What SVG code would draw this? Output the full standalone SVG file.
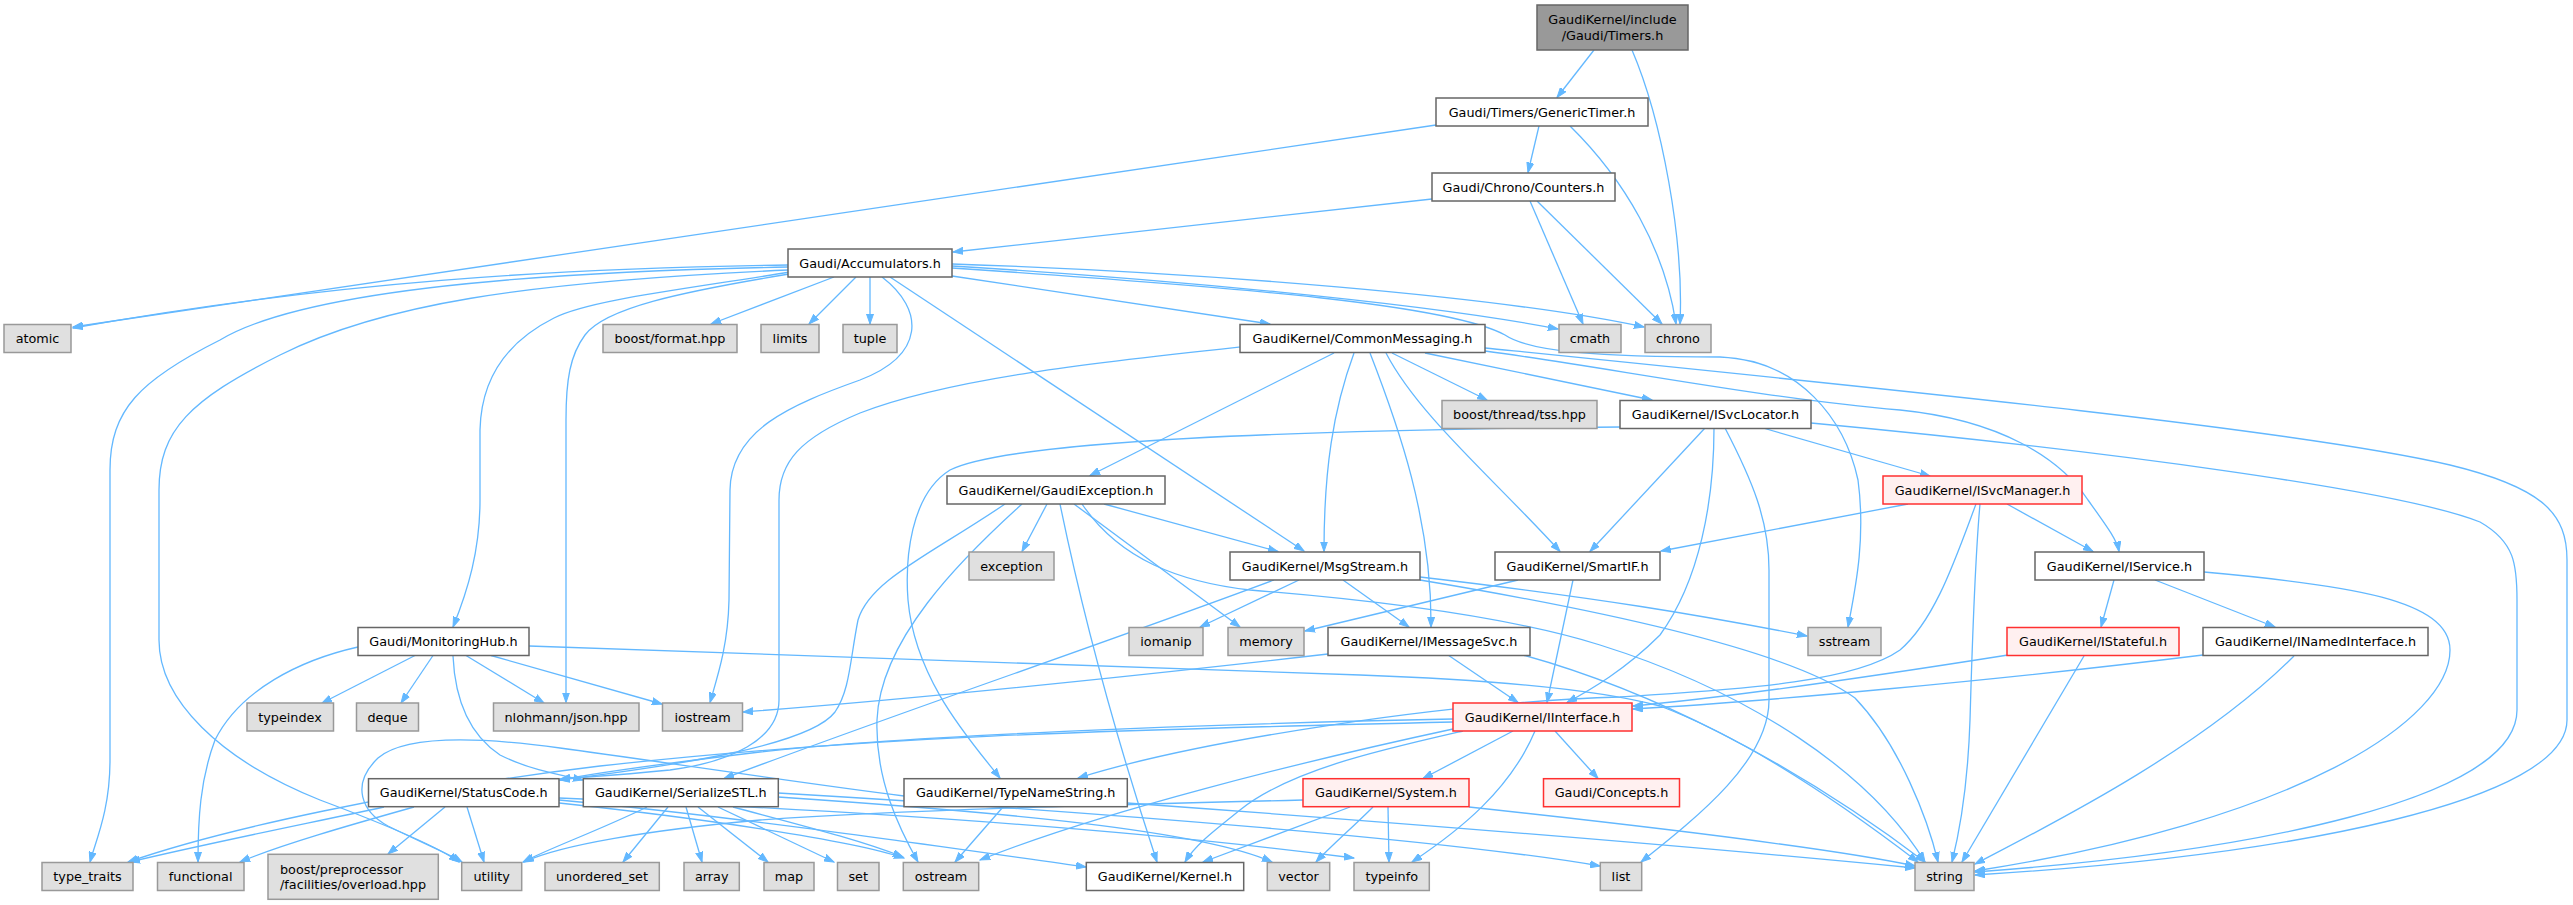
<svg xmlns="http://www.w3.org/2000/svg" width="2573" height="905" viewBox="0 0 2573 905">
<style>
.e{fill:none;stroke:#63b8ff;stroke-width:1.3;marker-end:url(#a)}
.n rect{fill:#ffffff;stroke:#666666;stroke-width:1.5}
.g rect{fill:#e0e0e0;stroke:#999999;stroke-width:1.5}
.r rect{fill:#fff0f0;stroke:#ff3030;stroke-width:1.5}
.root rect{fill:#999999;stroke:#666666;stroke-width:1.5}
text{font-family:"DejaVu Sans","Liberation Sans",sans-serif;font-size:12.8px;fill:#000;text-anchor:middle}
text.l{text-anchor:start}
</style>
<defs>
<marker id="a" markerWidth="11" markerHeight="8" refX="10" refY="4" orient="auto" markerUnits="userSpaceOnUse">
<path d="M0,0.5 L10,4 L0,7.5 z" fill="#63b8ff" stroke="#63b8ff" stroke-width="1"/>
</marker>
</defs>
<rect x="0" y="0" width="2573" height="905" fill="#ffffff"/>
<g id="edges">
<path class="e" d="M1594,50 L1557,97.5"/>
<path class="e" d="M1632,50 C1662,120 1684,240 1680,324"/>
<path class="e" d="M1436,125 L73,327"/>
<path class="e" d="M1539,126 L1528,172.5"/>
<path class="e" d="M1570,126 C1625,180 1665,250 1676,324"/>
<path class="e" d="M1432,199 L953,252"/>
<path class="e" d="M1530,201 L1583,324"/>
<path class="e" d="M1537,201 L1662,324"/>
<path class="e" d="M788,265 C560,268 330,282 73,328"/>
<path class="e" d="M834,277 L711,324"/>
<path class="e" d="M856,277 L809,324"/>
<path class="e" d="M870,277 L870,324"/>
<path class="e" d="M952,276 L1270,324"/>
<path class="e" d="M952,266 C1150,278 1420,302 1558,329"/>
<path class="e" d="M952,264 C1200,272 1500,296 1644,327"/>
<path class="e" d="M952,268 C1250,288 1450,305 1505,335 C1530,352 1600,357 1720,357 C1800,360 1845,420 1858,480 C1866,540 1855,590 1848,627"/>
<path class="e" d="M890,277 L1304,551"/>
<path class="e" d="M882,277 C925,310 925,355 860,380 C790,405 731,430 730,490 L729,600 C728,645 718,675 710,702.5"/>
<path class="e" d="M790,272 C680,290 590,300 554,318 C500,345 481,385 480,430 L480,500 C480,550 468,590 453,627"/>
<path class="e" d="M789,274 C680,292 605,308 585,335 C570,355 566,380 566,420 L566,702.5"/>
<path class="e" d="M788,267 C520,272 300,292 220,340 C140,380 110,410 110,470 L110,760 C110,810 96,840 90,862"/>
<path class="e" d="M788,270 C520,282 380,305 280,355 C190,400 159,430 159,490 L159,640 C159,700 220,760 320,800 C400,830 440,848 459,862"/>
<path class="e" d="M1334,353 L1090,475.5"/>
<path class="e" d="M1354,353 C1333,410 1324,470 1324,551.5"/>
<path class="e" d="M1370,353 C1398,425 1432,520 1431,627"/>
<path class="e" d="M1386,353 C1418,415 1495,480 1560,551.5"/>
<path class="e" d="M1392,353 L1487,400"/>
<path class="e" d="M1425,353 L1652,400"/>
<path class="e" d="M1485,351 C1600,366 1760,398 1900,410 C2000,420 2060,458 2088,500 C2108,528 2117,540 2119,551.5"/>
<path class="e" d="M1485,348 C1900,390 2300,430 2450,465 C2545,488 2567,515 2567,560 L2567,720 C2567,800 2300,855 1975,875"/>
<path class="e" d="M1240,347 C1100,362 950,378 860,413 C800,438 779,462 779,500 L779,700 C779,740 730,762 670,770 C620,775 585,777 560,779"/>
<path class="e" d="M1621,427 C1300,430 1010,440 950,470 C910,495 905,560 908,600 C915,680 970,740 1000,778"/>
<path class="e" d="M1763,428 L1930,476"/>
<path class="e" d="M1705,428 L1590,551.5"/>
<path class="e" d="M1714,428 C1714,500 1700,580 1660,635 C1625,670 1590,690 1567,702.5"/>
<path class="e" d="M1725,428 C1752,480 1769,520 1769,570 L1769,700 C1769,760 1700,815 1641,862"/>
<path class="e" d="M1811,423 C2100,450 2400,490 2480,522 C2515,542 2517,565 2517,600 L2517,710 C2517,800 2250,852 1975,872"/>
<path class="e" d="M1908,504 L1661,551"/>
<path class="e" d="M2007,504 L2093,551.5"/>
<path class="e" d="M1980,504 C1975,560 1972,650 1970,720 C1968,780 1960,830 1952,862"/>
<path class="e" d="M1976,504 C1955,560 1935,620 1900,650 C1850,685 1720,690 1620,697 C1450,702 1200,740 1078,778"/>
<path class="e" d="M2114,580 L2101,627"/>
<path class="e" d="M2155,580 L2275,627"/>
<path class="e" d="M2204,572 C2350,585 2450,600 2450,650 C2450,720 2300,820 1975,871"/>
<path class="e" d="M2008,655 C1850,680 1720,698 1633,706"/>
<path class="e" d="M2203,655 C2000,680 1760,702 1633,709"/>
<path class="e" d="M2084,656 L1962,862"/>
<path class="e" d="M2294,656 C2200,750 2050,825 1975,864"/>
<path class="e" d="M1343,580 L1409,627"/>
<path class="e" d="M1299,580 L1200,627"/>
<path class="e" d="M1420,577 C1600,598 1700,615 1807,636"/>
<path class="e" d="M1420,580 C1600,610 1790,650 1855,698 C1900,745 1928,820 1938,862"/>
<path class="e" d="M1274,580 C1100,645 900,712 724,778.5"/>
<path class="e" d="M1518,580 L1305,631"/>
<path class="e" d="M1573,580 L1547,702.5"/>
<path class="e" d="M1448,655 L1518,702.5"/>
<path class="e" d="M1328,654 C1100,680 900,700 743,712"/>
<path class="e" d="M1523,655 C1650,690 1790,760 1925,862"/>
<path class="e" d="M1047,504 L1022,551.5"/>
<path class="e" d="M1104,504 L1278,551.5"/>
<path class="e" d="M1074,504 L1240,627"/>
<path class="e" d="M1060,504 C1090,650 1130,780 1157,862"/>
<path class="e" d="M1005,504 C930,555 870,580 858,620 C850,660 850,690 835,712 C810,745 680,765 560,780"/>
<path class="e" d="M1022,504 C960,560 880,640 877,720 C875,780 900,830 918,862"/>
<path class="e" d="M1082,504 C1120,560 1180,582 1250,590 C1400,602 1520,620 1600,645 C1750,692 1870,772 1925,862"/>
<path class="e" d="M358,647 C300,660 240,690 215,740 C200,780 198,820 198,862"/>
<path class="e" d="M415,655.5 L322,703"/>
<path class="e" d="M433,655.5 L401,703"/>
<path class="e" d="M466,655.5 L544,703"/>
<path class="e" d="M491,655.5 L662,704"/>
<path class="e" d="M453,656 C455,700 470,735 500,755 C530,770 560,775 583,780"/>
<path class="e" d="M529,646 L1360,675 C1500,680 1600,690 1660,706 C1750,740 1850,810 1918,862"/>
<path class="e" d="M1513,731 L1423,778.5"/>
<path class="e" d="M1555,731 L1598,778.5"/>
<path class="e" d="M1535,731 C1510,790 1460,830 1412,862"/>
<path class="e" d="M1463,731 C1380,750 1290,770 1240,810 C1215,830 1195,845 1185,862"/>
<path class="e" d="M1453,729 C1300,762 1100,812 980,860"/>
<path class="e" d="M1453,719 C1200,724 900,736 760,752 C660,764 600,772 560,780"/>
<path class="e" d="M1453,722 C1100,730 860,737 600,766 C400,790 220,830 128,862"/>
<path class="e" d="M384,807 C300,825 200,845 130,862"/>
<path class="e" d="M414,807 C350,825 280,845 240,862"/>
<path class="e" d="M445,807 L388,854"/>
<path class="e" d="M467,807 L484,862"/>
<path class="e" d="M559,803 C700,818 850,840 904,858"/>
<path class="e" d="M559,800 C750,818 950,848 1086,867"/>
<path class="e" d="M559,798 C800,808 1100,825 1354,858"/>
<path class="e" d="M647,807 C600,830 550,848 523,862"/>
<path class="e" d="M668,807 L623,862"/>
<path class="e" d="M686,807 L702,862"/>
<path class="e" d="M698,807 L768,862"/>
<path class="e" d="M718,807 L834,862"/>
<path class="e" d="M733,807 C800,825 860,840 903,857"/>
<path class="e" d="M778,797 C1000,812 1200,830 1272,862"/>
<path class="e" d="M778,793 C1100,812 1450,840 1600,866"/>
<path class="e" d="M1003,807 L955,862"/>
<path class="e" d="M1127,803 C1500,830 1750,852 1915,868"/>
<path class="e" d="M904,796 C800,783 650,760 560,748 C480,737 405,735 378,758 C350,785 362,812 388,826 C420,842 445,852 462,862"/>
<path class="e" d="M1350,807 L1203,862"/>
<path class="e" d="M1373,807 C1352,828 1332,845 1316,862"/>
<path class="e" d="M1388,807 L1389,862"/>
<path class="e" d="M1469,807 C1700,832 1850,852 1915,866"/>
<path class="e" d="M1303,800 C1100,805 900,810 760,820 C650,830 560,845 524,862"/>
</g>
<g id="node-timers" class="root"><rect x="1537" y="5" width="151" height="45"/><text x="1612.5" y="24">GaudiKernel/include</text><text x="1612.5" y="39.5">/Gaudi/Timers.h</text></g>
<g id="node-generictimer" class="n"><rect x="1436" y="98" width="212" height="28"/><text x="1542" y="116.6">Gaudi/Timers/GenericTimer.h</text></g>
<g id="node-counters" class="n"><rect x="1432" y="173" width="183" height="28"/><text x="1523.5" y="191.6">Gaudi/Chrono/Counters.h</text></g>
<g id="node-accumulators" class="n"><rect x="788" y="249" width="164" height="28"/><text x="870" y="267.6">Gaudi/Accumulators.h</text></g>
<g id="node-atomic" class="g"><rect x="4" y="324.5" width="67" height="28"/><text x="37.5" y="343.1">atomic</text></g>
<g id="node-boostformat" class="g"><rect x="603" y="324.5" width="134" height="28"/><text x="670" y="343.1">boost/format.hpp</text></g>
<g id="node-limits" class="g"><rect x="761" y="324.5" width="58" height="28"/><text x="790" y="343.1">limits</text></g>
<g id="node-tuple" class="g"><rect x="843" y="324.5" width="54" height="28"/><text x="870" y="343.1">tuple</text></g>
<g id="node-commonmessaging" class="n"><rect x="1240" y="324.5" width="245" height="28"/><text x="1362.5" y="343.1">GaudiKernel/CommonMessaging.h</text></g>
<g id="node-cmath" class="g"><rect x="1559" y="324.5" width="62" height="28"/><text x="1590" y="343.1">cmath</text></g>
<g id="node-chrono" class="g"><rect x="1645" y="324.5" width="66" height="28"/><text x="1678" y="343.1">chrono</text></g>
<g id="node-tss" class="g"><rect x="1442" y="400.5" width="155" height="28"/><text x="1519.5" y="419.1">boost/thread/tss.hpp</text></g>
<g id="node-isvclocator" class="n"><rect x="1620" y="400.5" width="191" height="28"/><text x="1715.5" y="419.1">GaudiKernel/ISvcLocator.h</text></g>
<g id="node-gaudiexception" class="n"><rect x="947" y="476" width="218" height="28"/><text x="1056" y="494.6">GaudiKernel/GaudiException.h</text></g>
<g id="node-isvcmanager" class="r"><rect x="1883" y="476" width="199" height="28"/><text x="1982.5" y="494.6">GaudiKernel/ISvcManager.h</text></g>
<g id="node-exception" class="g"><rect x="969" y="552" width="85" height="28"/><text x="1011.5" y="570.6">exception</text></g>
<g id="node-msgstream" class="n"><rect x="1230" y="552" width="190" height="28"/><text x="1325" y="570.6">GaudiKernel/MsgStream.h</text></g>
<g id="node-smartif" class="n"><rect x="1495" y="552" width="165" height="28"/><text x="1577.5" y="570.6">GaudiKernel/SmartIF.h</text></g>
<g id="node-iservice" class="n"><rect x="2035" y="552" width="169" height="28"/><text x="2119.5" y="570.6">GaudiKernel/IService.h</text></g>
<g id="node-monitoringhub" class="n"><rect x="358" y="627.5" width="171" height="28"/><text x="443.5" y="646.1">Gaudi/MonitoringHub.h</text></g>
<g id="node-iomanip" class="g"><rect x="1129" y="627.5" width="74" height="28"/><text x="1166" y="646.1">iomanip</text></g>
<g id="node-memory" class="g"><rect x="1228" y="627.5" width="76" height="28"/><text x="1266" y="646.1">memory</text></g>
<g id="node-imessagesvc" class="n"><rect x="1328" y="627.5" width="202" height="28"/><text x="1429" y="646.1">GaudiKernel/IMessageSvc.h</text></g>
<g id="node-sstream" class="g"><rect x="1808" y="627.5" width="73" height="28"/><text x="1844.5" y="646.1">sstream</text></g>
<g id="node-istateful" class="r"><rect x="2007" y="627.5" width="172" height="28"/><text x="2093" y="646.1">GaudiKernel/IStateful.h</text></g>
<g id="node-inamedinterface" class="n"><rect x="2203" y="627.5" width="225" height="28"/><text x="2315.5" y="646.1">GaudiKernel/INamedInterface.h</text></g>
<g id="node-typeindex" class="g"><rect x="247" y="703" width="86.5" height="28"/><text x="290" y="721.6">typeindex</text></g>
<g id="node-deque" class="g"><rect x="356.5" y="703" width="62" height="28"/><text x="387.5" y="721.6">deque</text></g>
<g id="node-nlohmann" class="g"><rect x="493.5" y="703" width="145.5" height="28"/><text x="566" y="721.6">nlohmann/json.hpp</text></g>
<g id="node-iostream" class="g"><rect x="662.5" y="703" width="80" height="28"/><text x="702.5" y="721.6">iostream</text></g>
<g id="node-iinterface" class="r"><rect x="1453" y="703" width="179" height="28"/><text x="1542.5" y="721.6">GaudiKernel/IInterface.h</text></g>
<g id="node-statuscode" class="n"><rect x="368.5" y="778.7" width="190.5" height="28"/><text x="463.7" y="797.3">GaudiKernel/StatusCode.h</text></g>
<g id="node-serializestl" class="n"><rect x="583.3" y="778.7" width="195" height="28"/><text x="680.8" y="797.3">GaudiKernel/SerializeSTL.h</text></g>
<g id="node-typenamestring" class="n"><rect x="904" y="778.7" width="223.3" height="28"/><text x="1015.7" y="797.3">GaudiKernel/TypeNameString.h</text></g>
<g id="node-system" class="r"><rect x="1303" y="778.7" width="166" height="28"/><text x="1386" y="797.3">GaudiKernel/System.h</text></g>
<g id="node-concepts" class="r"><rect x="1543.5" y="778.7" width="136" height="28"/><text x="1611.5" y="797.3">Gaudi/Concepts.h</text></g>
<g id="node-type_traits" class="g"><rect x="42" y="862.5" width="91" height="28"/><text x="87.5" y="881.1">type_traits</text></g>
<g id="node-functional" class="g"><rect x="157.5" y="862.5" width="86.5" height="28"/><text x="200.7" y="881.1">functional</text></g>
<g id="node-boostpp" class="g"><rect x="268" y="854.3" width="170.3" height="45"/><text class="l" x="280" y="873.5">boost/preprocessor</text><text class="l" x="280" y="889">/facilities/overload.hpp</text></g>
<g id="node-utility" class="g"><rect x="461.7" y="862.5" width="60" height="28"/><text x="491.7" y="881.1">utility</text></g>
<g id="node-unordered_set" class="g"><rect x="545" y="862.5" width="114.3" height="28"/><text x="602" y="881.1">unordered_set</text></g>
<g id="node-array" class="g"><rect x="684" y="862.5" width="55.3" height="28"/><text x="711.7" y="881.1">array</text></g>
<g id="node-map" class="g"><rect x="764" y="862.5" width="50" height="28"/><text x="789" y="881.1">map</text></g>
<g id="node-set" class="g"><rect x="837.5" y="862.5" width="41.5" height="28"/><text x="858.2" y="881.1">set</text></g>
<g id="node-ostream" class="g"><rect x="903.3" y="862.5" width="75.4" height="28"/><text x="941" y="881.1">ostream</text></g>
<g id="node-kernel" class="n"><rect x="1086.3" y="862.5" width="157.4" height="28"/><text x="1165" y="881.1">GaudiKernel/Kernel.h</text></g>
<g id="node-vector" class="g"><rect x="1267.3" y="862.5" width="62.4" height="28"/><text x="1298.5" y="881.1">vector</text></g>
<g id="node-typeinfo" class="g"><rect x="1354" y="862.5" width="75.3" height="28"/><text x="1391.7" y="881.1">typeinfo</text></g>
<g id="node-list" class="g"><rect x="1600.3" y="862.5" width="41.4" height="28"/><text x="1621" y="881.1">list</text></g>
<g id="node-string" class="g"><rect x="1915" y="862.5" width="59" height="28"/><text x="1944.5" y="881.1">string</text></g>
</svg>
